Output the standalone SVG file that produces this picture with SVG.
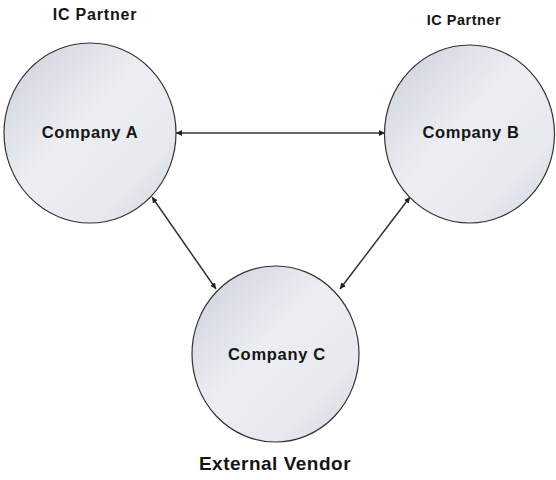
<svg xmlns="http://www.w3.org/2000/svg" width="556" height="480" viewBox="0 0 556 480">
<style>
.node{stroke:#333;stroke-width:1.2;fill:url(#g)}
.lbl{font-family:"Liberation Sans",Arial,sans-serif;font-weight:bold;fill:#151515;text-anchor:middle}
.conn{stroke:#333;stroke-width:1.5;fill:none;marker-start:url(#a);marker-end:url(#a)}
</style>
<defs>
<linearGradient id="g" x1="0" y1="0" x2="1" y2="1">
<stop offset="0" stop-color="#cbcfda"/>
<stop offset="0.45" stop-color="#eceef3"/>
<stop offset="0.75" stop-color="#e7e9ef"/>
<stop offset="1" stop-color="#d2d5df"/>
</linearGradient>
<marker id="a" viewBox="0 0 10 10" refX="10" refY="5" markerWidth="6" markerHeight="6" markerUnits="userSpaceOnUse" orient="auto-start-reverse">
<path d="M0,0 L10,5 L0,10 z" fill="#222"/>
</marker>
</defs>
<rect width="556" height="480" fill="#fff"/>
<g id="connectors">
<line class="conn" x1="176" y1="133" x2="385" y2="133"/>
<line class="conn" x1="152" y1="197" x2="216" y2="289"/>
<line class="conn" x1="410" y1="197" x2="340" y2="289"/>
</g>
<g id="companyA">
<ellipse class="node" cx="90" cy="133" rx="86" ry="90"/>
<text class="lbl" x="90" y="138" font-size="16.5" letter-spacing="0.6">Company A</text>
</g>
<g id="companyB">
<ellipse class="node" cx="469.5" cy="134" rx="85" ry="89"/>
<text class="lbl" x="471" y="138" font-size="16.5" letter-spacing="0.6">Company B</text>
</g>
<g id="companyC">
<ellipse class="node" cx="275.5" cy="354" rx="83.5" ry="88"/>
<text class="lbl" x="277" y="360" font-size="16.5" letter-spacing="0.7">Company C</text>
</g>
<g id="labels">
<text class="lbl" x="95" y="19.5" font-size="16" letter-spacing="0.8">IC Partner</text>
<text class="lbl" x="464" y="25" font-size="14.5" letter-spacing="0.5">IC Partner</text>
<text class="lbl" x="275" y="470" font-size="19" letter-spacing="0.5">External Vendor</text>
</g>
</svg>
